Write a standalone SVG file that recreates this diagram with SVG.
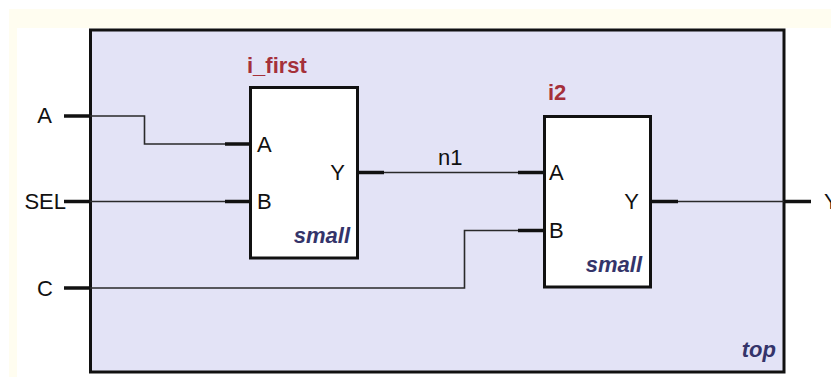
<svg xmlns="http://www.w3.org/2000/svg" width="831" height="379" viewBox="0 0 831 379">
  <style>
    .frame { fill: #e3e3f6; stroke: #111; stroke-width: 3; }
    .cell { fill: #ffffff; stroke: #111; stroke-width: 3; }
    .wire { fill: none; stroke: #2a2a2a; stroke-width: 1.6; }
    .stub { fill: none; stroke: #111; stroke-width: 3.5; }
    .port { font-family: "Liberation Sans", Arial, sans-serif; font-size: 22px; fill: #111; }
    .inst { font-family: "Liberation Sans", Arial, sans-serif; font-size: 22px; font-weight: bold; fill: #a5303a; }
    .type { font-family: "Liberation Sans", Arial, sans-serif; font-size: 22px; font-weight: bold; font-style: italic; fill: #34346a; }
  </style>

  <!-- page background -->
  <rect x="0" y="0" width="831" height="379" fill="#ffffff"/>
  <rect x="9" y="9" width="822" height="19" fill="#fffdf0"/>
  <rect x="9" y="9" width="8" height="368" fill="#fffdf0"/>

  <!-- top-level module -->
  <g id="top">
    <rect class="frame" x="90.5" y="30" width="693.5" height="342"/>
    <text class="type" x="776" y="357" text-anchor="end">top</text>
  </g>

  <!-- top-level ports -->
  <g id="port-A">
    <text class="port" x="52" y="123" text-anchor="end">A</text>
    <line class="stub" x1="64" y1="116" x2="90" y2="116"/>
  </g>
  <g id="port-SEL">
    <text class="port" x="66" y="209" text-anchor="end">SEL</text>
    <line class="stub" x1="64" y1="201.5" x2="90" y2="201.5"/>
  </g>
  <g id="port-C">
    <text class="port" x="53" y="296" text-anchor="end">C</text>
    <line class="stub" x1="64" y1="288" x2="90" y2="288"/>
  </g>
  <g id="port-Y">
    <line class="stub" x1="784" y1="201.5" x2="811" y2="201.5"/>
    <text class="port" x="824" y="209">Y</text>
  </g>

  <!-- instance i_first -->
  <g id="i_first">
    <text class="inst" x="247" y="73">i_first</text>
    <rect class="cell" x="250.5" y="87.5" width="107" height="170.5"/>
    <line class="stub" x1="225" y1="144" x2="250" y2="144"/>
    <line class="stub" x1="225" y1="201.5" x2="250" y2="201.5"/>
    <line class="stub" x1="358" y1="172.5" x2="384" y2="172.5"/>
    <text class="port" x="257" y="152">A</text>
    <text class="port" x="257" y="209">B</text>
    <text class="port" x="345" y="180" text-anchor="end">Y</text>
    <text class="type" x="350" y="243" text-anchor="end">small</text>
  </g>

  <!-- instance i2 -->
  <g id="i2">
    <text class="inst" x="548" y="100">i2</text>
    <rect class="cell" x="544.5" y="116.5" width="106" height="170.5"/>
    <line class="stub" x1="518" y1="172.5" x2="544" y2="172.5"/>
    <line class="stub" x1="518" y1="230.5" x2="544" y2="230.5"/>
    <line class="stub" x1="651" y1="201.5" x2="678" y2="201.5"/>
    <text class="port" x="549" y="180">A</text>
    <text class="port" x="549" y="238">B</text>
    <text class="port" x="639" y="209" text-anchor="end">Y</text>
    <text class="type" x="642" y="272" text-anchor="end">small</text>
  </g>

  <!-- nets -->
  <g id="connectors">
    <polyline class="wire" points="90,116 144.5,116 144.5,144 225,144"/>
    <polyline class="wire" points="90,201.5 225,201.5"/>
    <polyline class="wire" points="384,172.5 518,172.5"/>
    <polyline class="wire" points="90,288 464.5,288 464.5,230.5 518,230.5"/>
    <polyline class="wire" points="678,201.5 784,201.5"/>
    <text class="port" x="438" y="165">n1</text>
  </g>
</svg>
